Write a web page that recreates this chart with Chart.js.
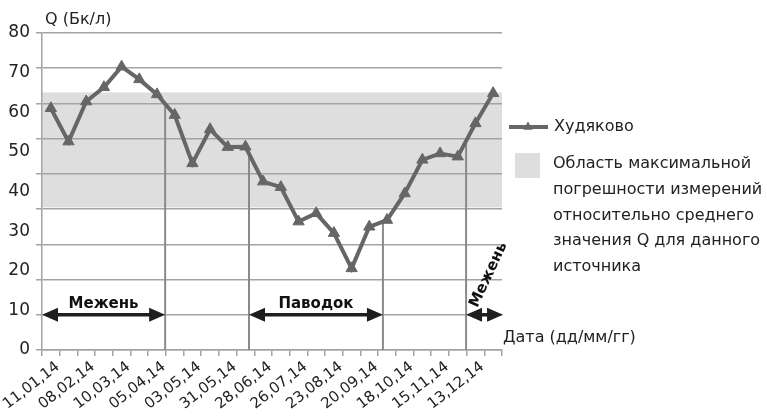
<!DOCTYPE html>
<html lang="ru">

<head>
    <meta charset="UTF-8">
    <title>Худяково</title>
    <style>
        body { margin: 0; background: #fff; }
        #wrap { width: 767px; height: 420px; }
    </style>
</head>

<body>
    <div id="wrap">
        <canvas id="grafico" width="767" height="420"></canvas>
    </div>

<script src="https://cdn.jsdelivr.net/npm/chart.js/dist/chart.umd.min.js"></script>
<script>
    // подписи дат (каждая вторая точка подписана)
    const dateLabels = ['11,01,14', '08,02,14', '10,03,14', '05,04,14', '03,05,14', '31,05,14', '28,06,14',
        '26,07,14', '23,08,14', '20,09,14', '18,10,14', '15,11,14', '13,12,14'];

    // Q (Бк/л), Худяково
    const qValues = [61.0, 52.6, 62.7, 66.3, 71.5, 68.3, 64.5, 59.3, 47.1, 55.7, 51.2, 51.3, 42.5,
        41.1, 32.4, 34.5, 29.5, 20.6, 31.1, 32.8, 39.5, 48.0, 49.6, 48.8, 57.2, 64.8];

    // область погрешности [низ, верх]
    const errorBand = [36, 65];

    // фазы: границы в индексах точек
    const phaseNames = ['Межень', 'Паводок', 'Межень'];
    const phaseFrom = [-0.5, 11.2, 23.47];
    const phaseTo = [6.46, 18.77, 25.56];
    const phaseLines = [6.46, 11.2, 18.77, 23.47];

    const legendText = ['Область максимальной', 'погрешности измерений', 'относительно среднего',
        'значения Q для данного', 'источника'];

    const categories = [];
    for (let i = 0; i < dateLabels.length; i++) {
        categories.push(dateLabels[i]);
        categories.push('');
    }

    const FONT = 'DejaVu Sans';
    const lineColor = '#666666';
    const gridColor = '#a3a3a3';
    const bandColor = '#dedede';
    const dark = '#1e1e1e';

    Chart.defaults.font.family = FONT;
    Chart.defaults.color = '#222';

    function valueAt(f) {
        const i0 = Math.max(0, Math.min(qValues.length - 2, Math.floor(f)));
        return qValues[i0] + (qValues[i0 + 1] - qValues[i0]) * (f - i0);
    }

    function drawArrow(c, x1, x2, y) {
        const head = 16, half = 7;
        c.save();
        c.strokeStyle = dark;
        c.fillStyle = dark;
        c.lineWidth = 3.5;
        c.beginPath();
        c.moveTo(x1 + head - 2, y);
        c.lineTo(x2 - head + 2, y);
        c.stroke();
        c.beginPath();
        c.moveTo(x1, y);
        c.lineTo(x1 + head, y - half);
        c.lineTo(x1 + head, y + half);
        c.closePath();
        c.fill();
        c.beginPath();
        c.moveTo(x2, y);
        c.lineTo(x2 - head, y - half);
        c.lineTo(x2 - head, y + half);
        c.closePath();
        c.fill();
        c.restore();
    }

    function triangle(c, x, y, r) {
        c.beginPath();
        c.moveTo(x, y - r);
        c.lineTo(x + r * 0.866, y + r * 0.5);
        c.lineTo(x - r * 0.866, y + r * 0.5);
        c.closePath();
        c.fill();
    }

    const decor = {
        id: 'decor',
        beforeDraw(chart) {
            const c = chart.ctx, a = chart.chartArea, ys = chart.scales.y;
            c.save();
            c.fillStyle = '#fff';
            c.fillRect(0, 0, chart.width, chart.height);
            const top = ys.getPixelForValue(errorBand[1]);
            const bot = ys.getPixelForValue(errorBand[0]);
            c.fillStyle = bandColor;
            c.fillRect(a.left, top, a.right - a.left, bot - top);
            c.restore();
        },
        beforeDatasetsDraw(chart) {
            const c = chart.ctx, a = chart.chartArea, xs = chart.scales.x, ys = chart.scales.y;
            c.save();
            c.strokeStyle = '#8a8a8a';
            c.lineWidth = 2;
            phaseLines.forEach(f => {
                const x = xs.getPixelForValue(f);
                c.beginPath();
                c.moveTo(x, ys.getPixelForValue(valueAt(f)));
                c.lineTo(x, a.bottom);
                c.stroke();
            });
            c.restore();
        },
        afterDraw(chart) {
            const c = chart.ctx, xs = chart.scales.x, y2 = chart.scales.y2;
            const ay = y2.getPixelForValue(1);

            c.save();
            c.fillStyle = '#111';
            c.font = 'bold 15px ' + FONT;
            c.textAlign = 'center';
            c.textBaseline = 'middle';
            for (let i = 0; i < phaseNames.length; i++) {
                const x1 = xs.getPixelForValue(phaseFrom[i]);
                const x2 = xs.getPixelForValue(phaseTo[i]);
                drawArrow(c, x1, x2, ay);
                const mid = (x1 + x2) / 2;
                if (x2 - x1 > 80) {
                    c.fillText(phaseNames[i], mid, ay - 11);
                } else {
                    c.save();
                    c.translate(mid + 4, ay - 40);
                    c.rotate(-65 * Math.PI / 180);
                    c.fillText(phaseNames[i], 0, 0);
                    c.restore();
                }
            }

            // заголовки осей
            c.fillStyle = '#222';
            c.font = '16px ' + FONT;
            c.textAlign = 'left';
            c.fillText('Q (Бк/л)', 45, 20);
            c.fillText('Дата (дд/мм/гг)', 503, 338);

            // легенда
            c.strokeStyle = lineColor;
            c.fillStyle = lineColor;
            c.lineWidth = 4;
            c.beginPath();
            c.moveTo(509, 127);
            c.lineTo(548, 127);
            c.stroke();
            triangle(c, 528, 127, 5.5);
            c.fillStyle = bandColor;
            c.fillRect(515, 153, 25, 25);

            c.fillStyle = '#222';
            c.font = '16px ' + FONT;
            c.fillText('Худяково', 554, 127);
            legendText.forEach((t, i) => c.fillText(t, 553, 164 + i * 25.7));
            c.restore();
        }
    };

    const ctx = document.getElementById('grafico');

    let grafico = new Chart(ctx, {
        type: 'line',
        data: {
            labels: categories,
            datasets: [{
                label: 'Худяково',
                data: qValues,
                borderColor: lineColor,
                backgroundColor: lineColor,
                borderWidth: 4,
                pointStyle: 'triangle',
                pointRadius: 6.5,
                pointHoverRadius: 6.5,
                pointBorderWidth: 1,
                tension: 0,
                yAxisID: 'y'
            }]
        },
        options: {
            responsive: false,
            animation: false,
            layout: { padding: { top: 33, right: 265, bottom: 0, left: 0 } },
            plugins: {
                legend: { display: false },
                tooltip: { enabled: false }
            },
            scales: {
                x: {
                    offset: true,
                    grid: { offset: true, drawOnChartArea: false, drawTicks: true, tickLength: 6, color: gridColor, lineWidth: 1.5 },
                    border: { color: gridColor, width: 1.5 },
                    ticks: { autoSkip: false, minRotation: 38, maxRotation: 38, padding: 2, labelOffset: 7, font: { size: 15 }, color: '#222' },
                    afterFit: (s) => { s.height = 70; s.paddingLeft = 0; s.paddingRight = 0; }
                },
                y: {
                    position: 'left',
                    weight: 1,
                    min: 0,
                    max: 80,
                    ticks: { stepSize: 10, padding: 5, font: { size: 17 }, color: '#222' },
                    grid: { display: false, drawTicks: false },
                    border: { display: false },
                    afterFit: (s) => { s.width = 35; }
                },
                y2: {
                    position: 'left',
                    weight: 0,
                    min: 0,
                    max: 9,
                    ticks: { display: false, stepSize: 1 },
                    grid: { color: gridColor, lineWidth: 1.5, drawTicks: true, tickLength: 6 },
                    border: { color: gridColor, width: 1.5 },
                    afterFit: (s) => { s.width = 7; }
                }
            }
        },
        plugins: [decor]
    });
</script>
</body>

</html>
